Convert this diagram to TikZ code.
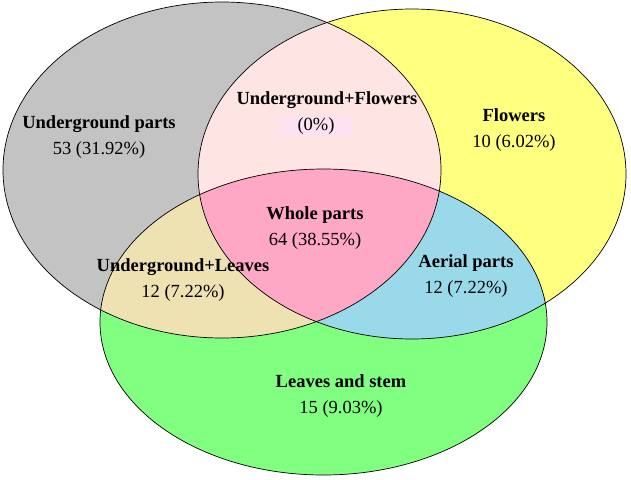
\documentclass[tikz,border=0pt]{standalone}
\usepackage{fontspec}
\setmainfont{Liberation Serif}
\usepackage{xcolor,tikz}
\usetikzlibrary{positioning}
\definecolor{under}{HTML}{C3C3C3}
\definecolor{flow}{HTML}{FFFF80}
\definecolor{leaf}{HTML}{80FF80}
\definecolor{uflow}{HTML}{FFE4E4}
\definecolor{uleaf}{HTML}{EEE1B2}
\definecolor{aerial}{HTML}{99D9EA}
\definecolor{whole}{HTML}{FFA8C5}
\definecolor{zero}{HTML}{FCE2F2}
\tikzset{set/.style={draw=black,line width=.7pt},
lab/.style={font=\fontsize{18.5}{26}\selectfont,text=black,align=center,inner sep=1pt}}
\def\ugpath{(222,170) ellipse [x radius=219, y radius=168]}
\def\flpath{(412,174) ellipse [x radius=214, y radius=165]}
\def\lfpath{(323.5,322) ellipse [x radius=223.5, y radius=153]}

\begin{document}
\begin{tikzpicture}[x=1pt,y=-1pt]
\useasboundingbox (0,0) rectangle (631,479);
% the three sets
\fill[under] \ugpath;
\fill[flow] \flpath;
\fill[leaf] \lfpath;
% pairwise overlaps
\begin{scope}\clip \ugpath; \fill[uflow] \flpath; \fill[uleaf] \lfpath; \end{scope}
\begin{scope}\clip \flpath; \fill[aerial] \lfpath; \end{scope}
% all three
\begin{scope}\clip \ugpath; \clip \flpath; \fill[whole] \lfpath; \end{scope}
\draw[set] \ugpath;
\draw[set] \flpath;
\draw[set] \lfpath;
% labels
\node[lab] (ug) at (99,137) {\textbf{Underground parts}\\53 (31.92\%)};
\node[lab] (ufl) at (327,100) {\textbf{Underground+Flowers}};
\node[lab,fill=zero,minimum width=72pt] (ufn) at (316,126) {(0\%)};
\node[lab] (fl) at (514,130) {\textbf{Flowers}\\10 (6.02\%)};
\node[lab] (wh) at (315,228) {\textbf{Whole parts}\\64 (38.55\%)};
\node[lab] (ul) at (183,280) {\textbf{Underground+Leaves}\\12 (7.22\%)};
\node[lab] (ae) at (466,276) {\textbf{Aerial parts}\\12 (7.22\%)};
\node[lab] (lf) at (341,396) {\textbf{Leaves and stem}\\15 (9.03\%)};
\end{tikzpicture}
\end{document}
